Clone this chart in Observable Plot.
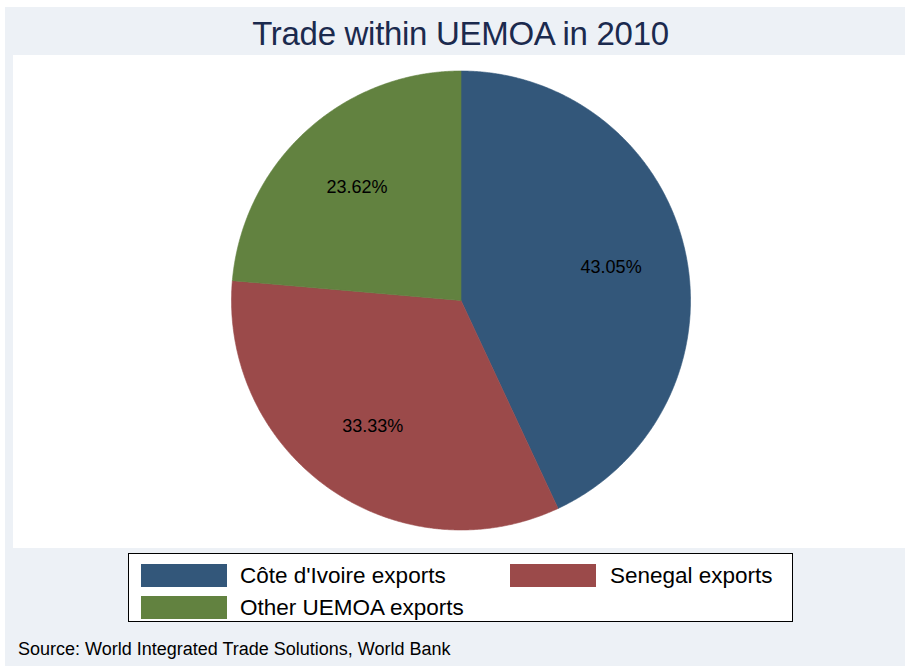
<!DOCTYPE html>
<html>
<head>
<meta charset="utf-8">
<script src="https://cdn.jsdelivr.net/npm/d3@7"></script>
<script src="https://cdn.jsdelivr.net/npm/@observablehq/plot@0.6"></script>
<style>
  html, body { margin: 0; padding: 0; background: #ffffff; }
  #frame { position: relative; width: 905px; height: 666px; background: #ffffff; overflow: hidden;
           font-family: "Liberation Sans", Arial, sans-serif; }
  #region { position: absolute; left: 5px; top: 7px; right: 0; bottom: 0; background: #EDF1F6; }
  #title { position: absolute; left: 0; width: 921px; top: 15px; text-align: center;
           font-size: 33px; color: #1B2A4E; letter-spacing: -0.3px; line-height: 38px; }
  #plot { position: absolute; left: 13px; top: 55px; width: 892px; height: 493px; background: #ffffff; }
  #legend { position: absolute; left: 128px; top: 553px; width: 663px; height: 67px;
            background: #ffffff; border: 1.5px solid #000000; }
  .sw { position: absolute; width: 86px; height: 23px; }
  .lt { position: absolute; font-size: 22.5px; color: #000; line-height: 25px; white-space: nowrap; }
  #source { position: absolute; left: 18px; top: 638px; font-size: 18px; line-height: 22px; color: #000; white-space: nowrap; }
</style>
</head>
<body>
<div id="frame">
  <div id="region"></div>
  <div id="title">Trade within UEMOA in 2010</div>
  <div id="plot"></div>
  <div id="legend"></div>
  <div id="source">Source: World Integrated Trade Solutions, World Bank</div>
</div>
<script>
// ---- data ----
const categories = ["Côte d'Ivoire exports", "Senegal exports", "Other UEMOA exports"];
const shares = [43.05, 33.33, 23.62];
const labels = ["43.05%", "33.33%", "23.62%"];
const colors = ["#33577A", "#9B4A4A", "#628240"];

// ---- geometry (unit circle, start at 12 o'clock, clockwise) ----
const total = d3.sum(shares);
let cum = 0;
const slices = shares.map((v, i) => {
  const a0 = cum / total * 2 * Math.PI;
  cum += v;
  const a1 = cum / total * 2 * Math.PI;
  return {cat: categories[i], a0, a1, label: labels[i]};
});
const poly = [];
for (const s of slices) {
  poly.push({cat: s.cat, x: 0, y: 0});
  const n = Math.max(2, Math.ceil((s.a1 - s.a0) / 0.005));
  for (let k = 0; k <= n; k++) {
    const a = s.a0 + (s.a1 - s.a0) * k / n;
    poly.push({cat: s.cat, x: Math.sin(a), y: Math.cos(a)});
  }
  poly.push({cat: s.cat, x: 0, y: 0});
}
const lab = slices.map(s => {
  const m = (s.a0 + s.a1) / 2, rr = 0.67;
  return {cat: s.cat, label: s.label, x: rr * Math.sin(m), y: rr * Math.cos(m)};
});

// panel geometry
const W = 892, H = 493, cx = 447.5, cy = 245, R = 229.5;

const chart = Plot.plot({
  width: W, height: H,
  margin: 0,
  style: {background: "#ffffff", overflow: "visible"},
  x: {domain: [-cx / R, (W - cx) / R], axis: null},
  y: {domain: [-(H - cy) / R, cy / R], axis: null},
  color: {domain: categories, range: colors},
  marks: [
    Plot.line(poly, {x: "x", y: "y", z: "cat", fill: "cat", stroke: "cat", strokeWidth: 0.6, curve: "linear"}),
    Plot.text(lab, {x: "x", y: "y", text: "label", fill: "#000000", fontSize: 18,
                    fontFamily: "Liberation Sans, Arial, sans-serif"})
  ]
});
document.getElementById("plot").appendChild(chart);

// ---- legend ----
const legend = document.getElementById("legend");
const pos = [{sx: 12, tx: 111, y: 10}, {sx: 381, tx: 481, y: 10}, {sx: 12, tx: 111, y: 42}];
categories.forEach((c, i) => {
  const sw = document.createElement("div");
  sw.className = "sw";
  sw.style.left = pos[i].sx + "px";
  sw.style.top = pos[i].y + "px";
  sw.style.background = colors[i];
  legend.appendChild(sw);
  const t = document.createElement("div");
  t.className = "lt";
  t.style.left = pos[i].tx + "px";
  t.style.top = (pos[i].y - 1) + "px";
  t.textContent = c;
  legend.appendChild(t);
});
</script>
</body>
</html>
